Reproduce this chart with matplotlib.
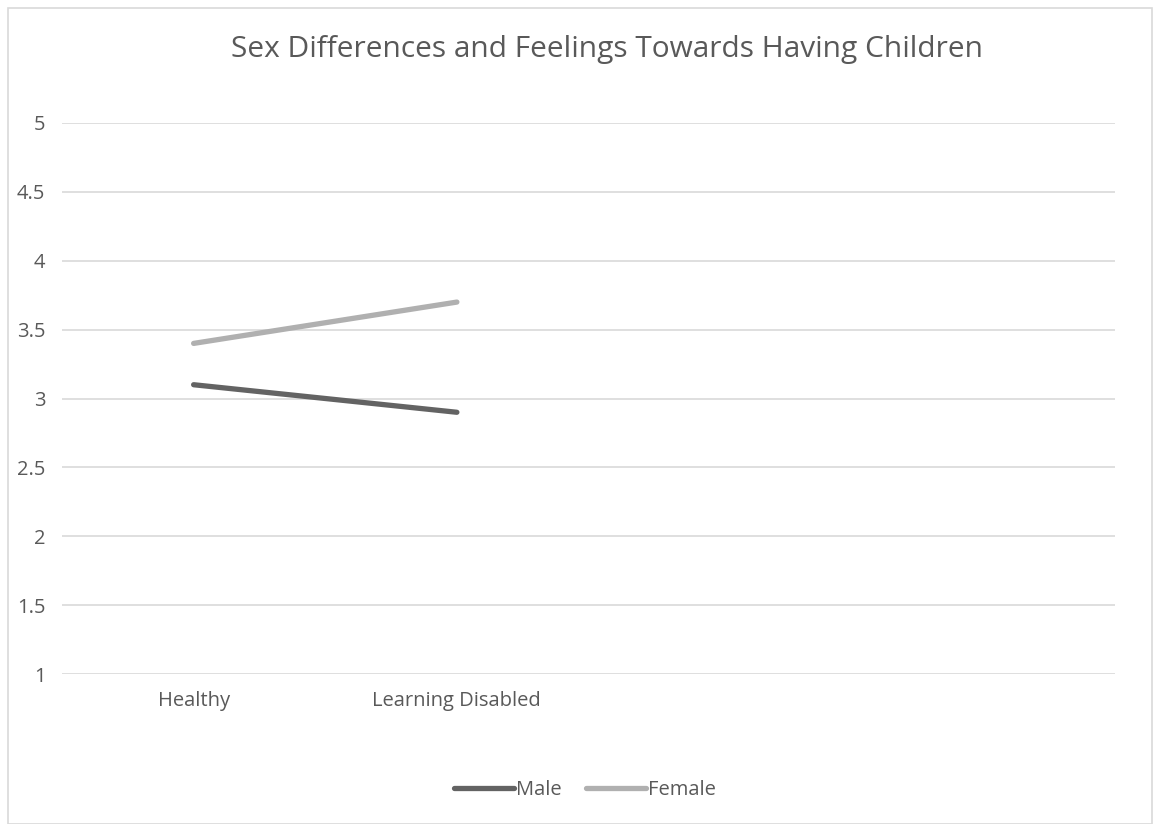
import matplotlib.pyplot as plt
from matplotlib.patches import Rectangle

# data
categories = ['Healthy', 'Learning Disabled', '', '']
male = [3.1, 2.9]
female = [3.4, 3.7]
yticks = [1, 1.5, 2, 2.5, 3, 3.5, 4, 4.5, 5]

plt.rcParams['font.family'] = ['Open Sans', 'DejaVu Sans']
text_color = '#595959'

fig = plt.figure(figsize=(11.53, 8.24), dpi=100)
ax = fig.add_axes([62/1153, (824-674)/824, (1115-62)/1153, (674-123)/824])

x = list(range(len(categories)))
ax.plot(x[:len(male)], male, color='#636363', lw=3.8, solid_capstyle='round', label='Male')
ax.plot(x[:len(female)], female, color='#B0B0B0', lw=3.8, solid_capstyle='round', label='Female')

ax.set_xlim(-0.5, len(categories) - 0.5)
ax.set_ylim(1, 5)
ax.set_yticks(yticks)
ax.set_yticklabels([f'{v:g}' for v in yticks])
ax.set_xticks(x)
ax.set_xticklabels(categories)
ax.grid(axis='y', color='#D9D9D9', lw=1.2)
ax.set_axisbelow(True)
for s in ax.spines.values():
    s.set_visible(False)
ax.tick_params(length=0, colors=text_color, labelsize=14.5)
ax.tick_params(axis='y', pad=12)
ax.tick_params(axis='x', pad=12)

fig.text(607/1153, (824-50)/824, 'Sex Differences and Feelings Towards Having Children',
         ha='center', va='center', fontsize=21.5, color=text_color)

leg = fig.legend(loc='center', bbox_to_anchor=(585/1153, (824-790)/824), ncol=2, frameon=False,
                 fontsize=14.5, handlelength=3.0, handletextpad=0.1, columnspacing=1.2)
for t in leg.get_texts():
    t.set_color(text_color)

fig.patches.append(Rectangle((8/1153, 0), 1 - 8/1153 - 0.001, 1 - 8/824, transform=fig.transFigure,
                             fill=False, edgecolor='#D9D9D9', lw=1.2))

plt.savefig('out.png', dpi=100)
